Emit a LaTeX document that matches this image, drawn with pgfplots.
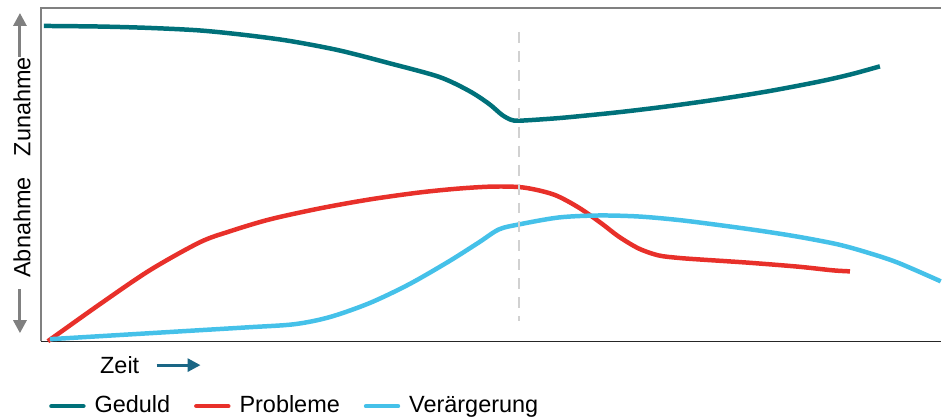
\documentclass[border=0pt]{standalone}
\usepackage{pgfplots}
\pgfplotsset{compat=1.18}
\usepackage{fontspec}
\setmainfont{Liberation Sans}
\usetikzlibrary{arrows.meta}
\definecolor{geduld}{HTML}{00717A}
\definecolor{probleme}{HTML}{E8302A}
\definecolor{verarg}{HTML}{45C1E9}
\definecolor{zeitarrow}{HTML}{1A6685}
\definecolor{axgray}{HTML}{808080}
\begin{document}
\fontsize{23.5}{28}\selectfont
\begin{tikzpicture}
\begin{axis}[
  scale only axis,
  width=902pt, height=334pt,
  xmin=41, xmax=943, ymin=8, ymax=342,
  y dir=reverse,
  axis line style={draw=none},
  ticks=none,
  clip=false,
  legend columns=3,
  legend style={at={(axis description cs:0.009,-0.195)}, anchor=west, draw=none, fill=none,
    font=\fontsize{23.5}{28}\selectfont, inner sep=0pt,
    /tikz/every odd column/.append style={column sep=7pt},
    /tikz/every even column/.append style={column sep=22pt}},
  legend image code/.code={\draw[line width=4.5pt, line cap=round] (2pt,0pt) -- (34pt,0pt);},
]
% frame
\draw[axgray, line width=1.2pt] (axis cs:41,342) -- (axis cs:41,8) -- (axis cs:943,8);
\draw[black!85, line width=1.2pt] (axis cs:41,342) -- (axis cs:943,342);
\path (axis cs:0,0) rectangle (axis cs:943,419);

\addplot[geduld, line width=4.5pt, smooth, tension=0.5] coordinates {
(44,26) (100,26.6) (150,28) (200,30.5) (245,35) (290,41) (340,50.5) (390,63.3) (440,77) (470,91) (490,104) (503,115) (512,120) (520,121) (545,119.5) (570,117.5) (620,112.5) (670,106.5) (720,99.5) (770,91.5) (820,82) (853,74.5) (882,66.5)
};
\addlegendentry{Geduld}
\addplot[probleme, line width=4.5pt, smooth, tension=0.5] coordinates {
(48,342) (100,305) (150,271) (200,243) (230,232) (270,220) (320,209) (370,200) (420,193) (460,189) (495,187) (525,188) (555,195) (580,208) (603,224) (620,237) (640,249) (660,256) (680,258.5) (700,260) (750,263.3) (800,267.3) (835,271) (852,272)
};
\addlegendentry{Probleme}
\addplot[verarg, line width=4.5pt, smooth, tension=0.5] coordinates {
(50,340) (100,337) (150,334) (200,331) (250,328) (295,325) (330,318) (370,304) (410,285) (450,262) (480,243) (500,230) (520,225) (560,218) (600,216) (640,217) (680,220.5) (720,225.5) (760,231) (800,237.3) (840,245) (870,253.3) (900,263.3) (943,282)
};
\addlegendentry{Verärgerung}
\addplot[forget plot, color=black!18, line width=2.5pt, dash pattern=on 11pt off 8pt] coordinates {(520,32) (520,322)};

% left labels
\node[rotate=90, anchor=center] at (axis cs:22,107) {Zunahme};
\node[rotate=90, anchor=center] at (axis cs:22,228) {Abnahme};
\draw[axgray, line width=3pt, -{Triangle[width=13pt,length=13pt]}] (axis cs:20,57) -- (axis cs:20,13);
\draw[axgray, line width=3pt, -{Triangle[width=13pt,length=13pt]}] (axis cs:20,290) -- (axis cs:20,334);
% Zeit
\node[anchor=center] at (axis cs:120,366) {Zeit};
\draw[zeitarrow, line width=3pt, -{Triangle[width=13pt,length=13pt]}] (axis cs:157,366) -- (axis cs:201,366);
\end{axis}
\end{tikzpicture}
\end{document}
